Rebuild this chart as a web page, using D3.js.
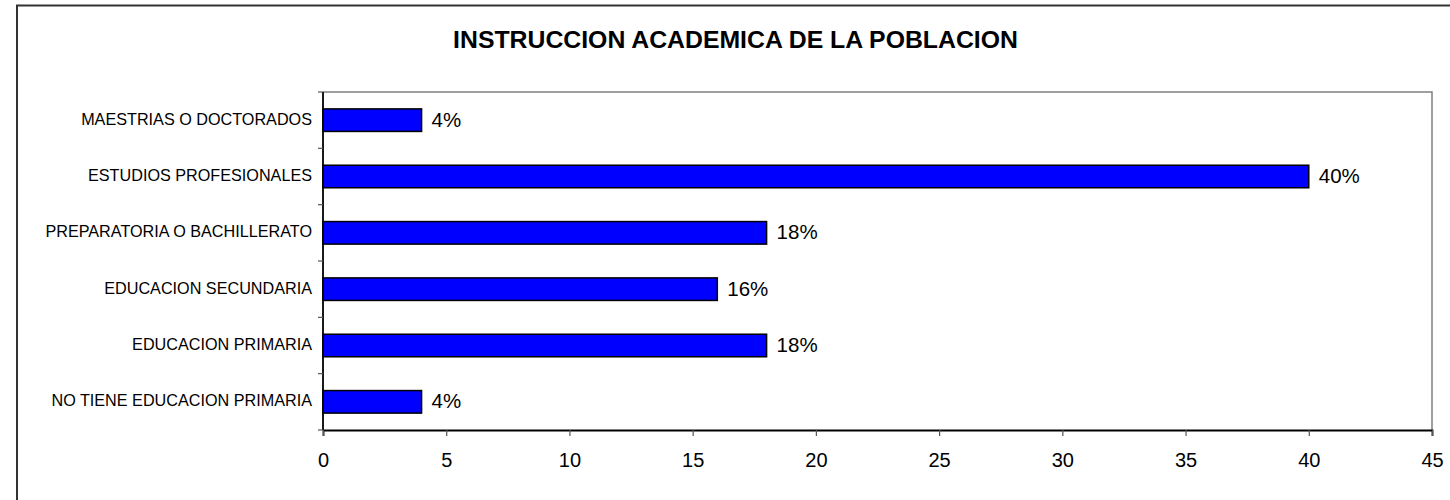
<!DOCTYPE html>
<html>
<head>
<meta charset="utf-8">
<script src="https://cdn.jsdelivr.net/npm/d3@7"></script>
<style>
  html, body { margin: 0; padding: 0; background: #fff; }
  svg { display: block; font-family: "Liberation Sans", Arial, sans-serif; }
</style>
</head>
<body>
<svg id="chart" width="1450" height="500"></svg>
<script>
const title = "INSTRUCCION ACADEMICA DE LA POBLACION";
const categories = [
  "MAESTRIAS O DOCTORADOS",
  "ESTUDIOS PROFESIONALES",
  "PREPARATORIA O BACHILLERATO",
  "EDUCACION SECUNDARIA",
  "EDUCACION PRIMARIA",
  "NO TIENE EDUCACION PRIMARIA"
];
const values = [4, 40, 18, 16, 18, 4];
const valueLabels = ["4%", "40%", "18%", "16%", "18%", "4%"];
const xTicks = [0, 5, 10, 15, 20, 25, 30, 35, 40, 45];

const svg = d3.select("#chart");
const plot = { left: 323, right: 1432, top: 92, bottom: 430 };

// outer chart border
svg.append("rect")
  .attr("x", 17).attr("y", 5.5)
  .attr("width", 1460).attr("height", 510)
  .attr("fill", "#fff").attr("stroke", "#333").attr("stroke-width", 2);

// title
svg.append("text")
  .attr("x", 735.5).attr("y", 47.5)
  .attr("text-anchor", "middle")
  .attr("font-size", 24.8).attr("font-weight", "bold")
  .attr("fill", "#000")
  .text(title);

const x = d3.scaleLinear().domain([0, 45]).range([plot.left, plot.right]);
const y = d3.scaleBand().domain(categories).range([plot.top, plot.bottom])
  .paddingInner(0.6).paddingOuter(0.3);

// plot frame (top & right gray)
svg.append("path")
  .attr("d", `M${plot.left},${plot.top}H${plot.right}V${plot.bottom}`)
  .attr("fill", "none").attr("stroke", "#808080").attr("stroke-width", 1.5);

// bars
svg.append("g").selectAll("rect")
  .data(categories)
  .join("rect")
  .attr("x", x(0))
  .attr("y", d => y(d))
  .attr("width", (d, i) => x(values[i]) - x(0))
  .attr("height", y.bandwidth())
  .attr("fill", "#0000FF")
  .attr("stroke", "#000").attr("stroke-width", 1.5);

// data labels
svg.append("g").selectAll("text")
  .data(categories)
  .join("text")
  .attr("x", (d, i) => x(values[i]) + 10)
  .attr("y", d => y(d) + y.bandwidth() / 2 + 6.5)
  .attr("font-size", 20.5)
  .attr("fill", "#000")
  .text((d, i) => valueLabels[i]);

// x axis
const xAxis = d3.axisBottom(x).tickValues(xTicks).tickSize(6).tickPadding(17);
const gx = svg.append("g").attr("transform", `translate(0,${plot.bottom})`).call(xAxis);
gx.select(".domain").attr("stroke", "#000").attr("stroke-width", 1.8);
gx.selectAll(".tick line").attr("stroke", "#555").attr("stroke-width", 1.2);
gx.selectAll(".tick text").attr("font-size", 20).attr("fill", "#000")
  .attr("font-family", "'Liberation Sans', Arial, sans-serif");

// y axis
const gy = svg.append("g").attr("transform", `translate(${plot.left},0)`);
gy.append("line")
  .attr("x1", 0).attr("x2", 0)
  .attr("y1", plot.top).attr("y2", plot.bottom)
  .attr("stroke", "#000").attr("stroke-width", 1.8);
const boundaries = d3.range(categories.length + 1).map(i => plot.top + i * y.step());
gy.selectAll("line.tk")
  .data(boundaries)
  .join("line").attr("class", "tk")
  .attr("x1", -5).attr("x2", 0)
  .attr("y1", d => d).attr("y2", d => d)
  .attr("stroke", "#555").attr("stroke-width", 1.2);
gy.selectAll("text")
  .data(categories)
  .join("text")
  .attr("x", -11)
  .attr("y", d => y(d) + y.bandwidth() / 2 + 4.5)
  .attr("text-anchor", "end")
  .attr("font-size", 16.2)
  .attr("fill", "#000")
  .text(d => d);
</script>
</body>
</html>
